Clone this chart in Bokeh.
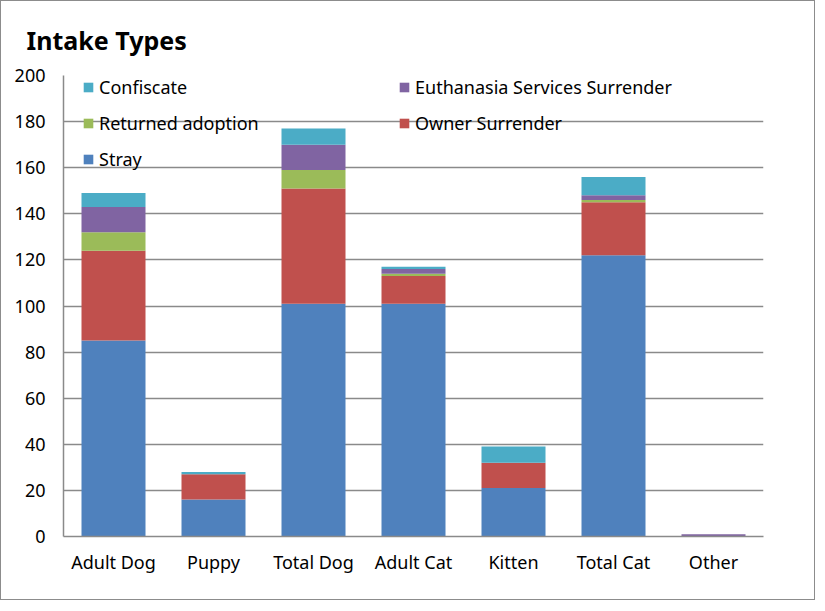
from bokeh.plotting import figure
from bokeh.models import Legend, LegendItem, FixedTicker, ColumnDataSource, Range1d
from bokeh.embed import file_html
from bokeh.resources import INLINE

categories = ["Adult Dog", "Puppy", "Total Dog", "Adult Cat", "Kitten", "Total Cat", "Other"]
stray = [85, 16, 101, 101, 21, 122, 0]
owner_surrender = [39, 11, 50, 12, 11, 23, 0]
returned_adoption = [8, 0, 8, 1, 0, 1, 0]
euthanasia = [11, 0, 11, 2, 0, 2, 1]
confiscate = [6, 1, 7, 1, 7, 8, 0]
y_ticks = [0, 20, 40, 60, 80, 100, 120, 140, 160, 180, 200]

series_keys = ["stray", "owner", "returned", "eutha", "confiscate"]
series_names = ["Stray", "Owner Surrender", "Returned adoption",
                "Euthanasia Services Surrender", "Confiscate"]
colors = ["#4F81BD", "#C0504D", "#9BBB59", "#8064A2", "#4BACC6"]

source = ColumnDataSource(dict(cat=categories, stray=stray, owner=owner_surrender,
                               returned=returned_adoption, eutha=euthanasia,
                               confiscate=confiscate))

FONT = "Noto Sans"

p = figure(x_range=categories, width=815, height=600, output_backend="svg",
           toolbar_location=None, min_border_left=62, min_border_right=53,
           min_border_top=73, min_border_bottom=65)
p.y_range = Range1d(0, 200)

renderers = p.vbar_stack(series_keys, x="cat", width=0.64, color=colors,
                         source=source, line_color=None)

p.title.text = "Intake Types"
p.title.text_font = FONT
p.title.text_font_size = "25px"
p.title.text_font_style = "bold"
p.title.text_color = "black"
p.title.align = "left"
p.title.offset = -37
p.title.standoff = 38

p.outline_line_color = None
p.background_fill_color = "white"
p.border_fill_color = "white"
p.styles = {"border": "1px solid #8c8c8c"}

p.xgrid.grid_line_color = None
p.ygrid.grid_line_color = "#8a8a8a"
p.ygrid.grid_line_width = 1.5
p.yaxis.ticker = FixedTicker(ticks=y_ticks)

for ax in (p.xaxis, p.yaxis):
    ax.axis_line_color = "#8a8a8a"
    ax.axis_line_width = 1.5
    ax.major_tick_line_color = None
    ax.minor_tick_line_color = None
    ax.major_label_text_font = FONT
    ax.major_label_text_font_size = "18px"
    ax.major_label_text_color = "black"
p.yaxis.major_label_standoff = 12
p.xaxis.major_label_standoff = 7

order = [4, 3, 2, 1, 0]
items = [LegendItem(label=series_names[i], renderers=[renderers[i]]) for i in order]
legend = Legend(items=items, orientation="horizontal", ncols=2,
                location=(19, 365), padding=0, margin=0,
                glyph_width=12, glyph_height=12, label_standoff=5,
                label_height=20, label_width=287, spacing=12,
                label_text_font=FONT, label_text_font_size="18px",
                label_text_color="black",
                background_fill_alpha=0, border_line_color=None)
p.add_layout(legend, "center")

open("out.html", "w").write(file_html(p, INLINE))
